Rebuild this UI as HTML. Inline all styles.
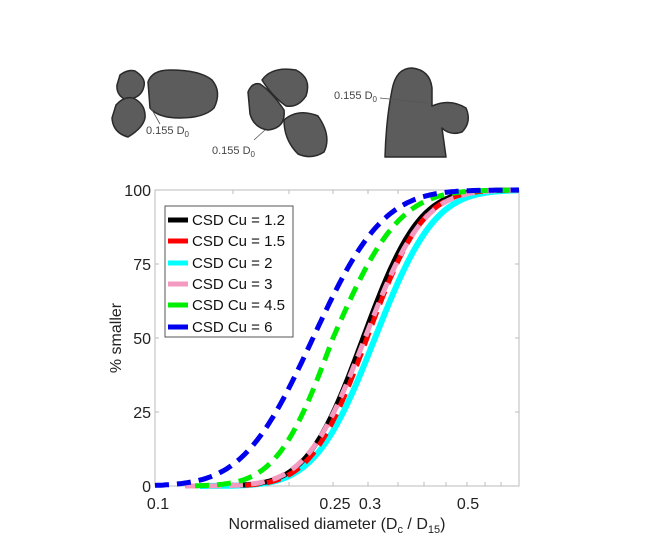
<!DOCTYPE html>
<html><head><style>
body{margin:0;background:#fff;width:654px;height:542px;overflow:hidden}
svg text{font-family:"Liberation Sans",sans-serif}
</style></head><body>
<svg width="654" height="542" viewBox="0 0 654 542">
<g fill="#5c5c5c" stroke="#2a2a2a" stroke-width="1.5" stroke-linejoin="round">
<path d="M120,75 Q128,69 135,71 Q146,78 144,86 Q142,98 126,100 Q116,95 117,85 Z"/>
<path d="M116,105 Q124,96 133,98 Q146,104 145,118 Q143,128 128,137 Q113,133 112,118 Z"/>
<path d="M148,82 Q152,70 170,70 Q200,70 212,80 Q222,92 214,108 Q204,118 180,118 Q158,118 150,108 Z"/>
<path d="M248,92 Q252,82 260,84 Q272,92 284,110 Q286,128 268,130 Q254,128 250,114 Z"/>
<path d="M262,80 Q272,66 296,70 Q312,78 306,96 Q298,108 286,106 Q272,96 262,80 Z"/>
<path d="M284,120 Q298,108 318,116 Q332,136 324,152 Q312,160 298,154 Q284,140 284,120 Z"/>
<path d="M392,90 Q396,68 412,68 Q430,70 432,88 L432,106 Q450,98 466,108 Q472,122 462,132 Q450,136 442,128 L446,157 L385,157 Q386,120 392,90 Z"/>
</g>
<g stroke="#555" stroke-width="0.8" fill="none">
<line x1="151" y1="108" x2="160" y2="124"/>
<line x1="254" y1="140" x2="265" y2="130"/>
<line x1="380" y1="98" x2="428" y2="103"/>
</g>
<g font-size="11" fill="#444">
<text x="146" y="134">0.155 D<tspan font-size="8" dy="3">0</tspan></text>
<text x="212" y="154">0.155 D<tspan font-size="8" dy="3">0</tspan></text>
<text x="334" y="99">0.155 D<tspan font-size="8" dy="3">0</tspan></text>
</g>
<rect x="155" y="190" width="364" height="296" fill="none" stroke="#bbb" stroke-width="1"/>
<g stroke="#bbb" stroke-width="1">
<line x1="155" y1="264" x2="159" y2="264"/><line x1="155" y1="338" x2="159" y2="338"/><line x1="155" y1="412" x2="159" y2="412"/>
<line x1="519" y1="264" x2="515" y2="264"/><line x1="519" y1="338" x2="515" y2="338"/><line x1="519" y1="412" x2="515" y2="412"/>
<line x1="233" y1="486" x2="233" y2="482"/><line x1="289" y1="486" x2="289" y2="482"/><line x1="333" y1="486" x2="333" y2="482"/><line x1="368" y1="486" x2="368" y2="482"/><line x1="398" y1="486" x2="398" y2="482"/><line x1="424" y1="486" x2="424" y2="482"/><line x1="446" y1="486" x2="446" y2="482"/><line x1="467" y1="486" x2="467" y2="482"/><line x1="485" y1="486" x2="485" y2="482"/><line x1="501" y1="486" x2="501" y2="482"/>
<line x1="233" y1="190" x2="233" y2="194"/><line x1="289" y1="190" x2="289" y2="194"/><line x1="333" y1="190" x2="333" y2="194"/><line x1="368" y1="190" x2="368" y2="194"/><line x1="398" y1="190" x2="398" y2="194"/><line x1="467" y1="190" x2="467" y2="194"/>
</g>
<g font-size="16" fill="#222" text-anchor="end">
<text x="151" y="196">100</text><text x="151" y="270">75</text><text x="151" y="344">50</text><text x="151" y="418">25</text><text x="151" y="492">0</text>
</g>
<g font-size="16" fill="#222" text-anchor="middle">
<text x="158" y="509">0.1</text><text x="335" y="509">0.25</text><text x="370" y="509">0.3</text><text x="468" y="509">0.5</text>
<text x="337" y="529">Normalised diameter (D<tspan font-size="11" dy="4">c</tspan><tspan dy="-4"> / D</tspan><tspan font-size="11" dy="4">15</tspan><tspan dy="-4">)</tspan></text>
</g>
<text transform="translate(121,338) rotate(-90)" font-size="16" fill="#222" text-anchor="middle">% smaller</text>
<g fill="none" stroke-width="5" id="curves">
<polyline id="c" stroke="#00ffff" stroke-width="6"/>
<polyline id="k" stroke="#000"/>
<polyline id="r" stroke="#ff0000" stroke-dasharray="14,8"/>
<polyline id="p" stroke="#f49ac1" stroke-dasharray="14,8"/>
<polyline id="g" stroke="#00ee00" stroke-dasharray="14,8"/>
<polyline id="b" stroke="#0000ee" stroke-dasharray="14,8"/>
</g>
<rect x="165" y="206" width="128" height="131" fill="#fff" stroke="#555" stroke-width="1"/>
<g stroke-width="5">
<line x1="168" y1="220" x2="188" y2="220" stroke="#000"/>
<line x1="168" y1="241" x2="188" y2="241" stroke="#ff0000"/>
<line x1="168" y1="263" x2="188" y2="263" stroke="#00ffff"/>
<line x1="168" y1="284" x2="188" y2="284" stroke="#f49ac1"/>
<line x1="168" y1="305" x2="188" y2="305" stroke="#00ee00"/>
<line x1="168" y1="327" x2="188" y2="327" stroke="#0000ee"/>
</g>
<g font-size="15" fill="#111">
<text x="192" y="225">CSD Cu = 1.2</text>
<text x="192" y="246">CSD Cu = 1.5</text>
<text x="192" y="268">CSD Cu = 2</text>
<text x="192" y="289">CSD Cu = 3</text>
<text x="192" y="310">CSD Cu = 4.5</text>
<text x="192" y="332">CSD Cu = 6</text>
</g>
</svg>
<script>
function erf(x){var s=x<0?-1:1;x=Math.abs(x);var t=1/(1+0.3275911*x);var y=1-(((((1.061405429*t-1.453152027)*t)+1.421413741)*t-0.284496736)*t+0.254829592)*t*Math.exp(-x*x);return s*y;}
function Phi(z){return 0.5*(1+erf(z/Math.SQRT2));}
function mk(id,mu,sl,sr,x0){var pts=[];for(var x=x0;x<=519;x+=2){var s=x<mu?sl:sr;var y=486-296*Phi((x-mu)/s);pts.push(x+","+y.toFixed(1));}document.getElementById(id).setAttribute("points",pts.join(" "));}
mk("c",375,47,47,200);
mk("k",363,44,44,240);
mk("r",367,44,44,245);
mk("p",365,46,46,185);
mk("g",333,44,52,195);
mk("b",313,55,55,155);
</script>
</body></html>
